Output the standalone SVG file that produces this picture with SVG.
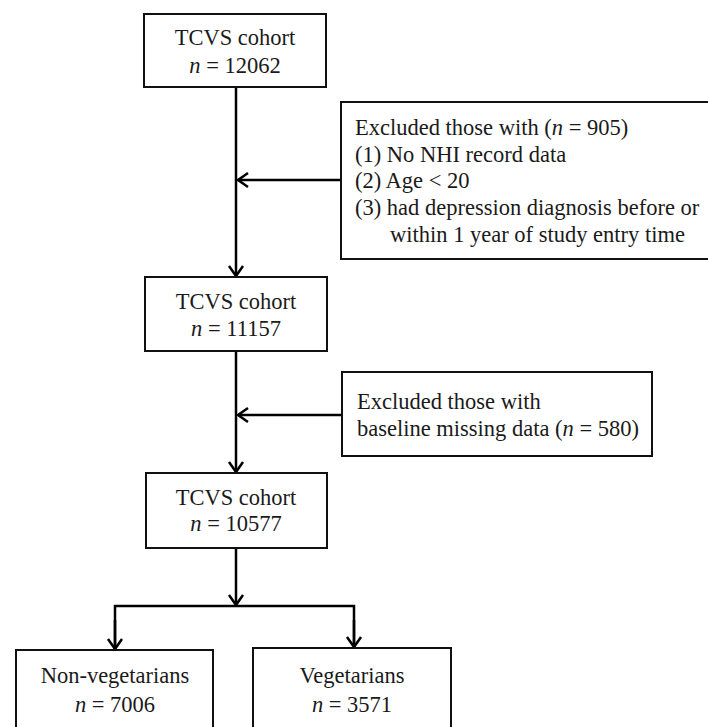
<svg xmlns="http://www.w3.org/2000/svg" width="708" height="727" viewBox="0 0 708 727">
<style>
  .box { fill: #fff; stroke: #111; stroke-width: 2; }
  .t { font-family: "Liberation Serif", "Times New Roman", serif; font-size: 22.5px; fill: #1a1a1a; }
  .c { text-anchor: middle; }
  .i { font-style: italic; }
  .ln { fill: none; stroke: #000; stroke-width: 2.5; }
</style>
<defs>
  <marker id="arr" markerUnits="userSpaceOnUse" markerWidth="20" markerHeight="20" viewBox="-12 -10 14 20" refX="0" refY="0" orient="auto">
    <path d="M-10,-7 L0,0 L-10,7" fill="none" stroke="#000" stroke-width="2.5"/>
  </marker>
</defs>
<rect width="708" height="727" fill="#fff"/>
<g id="connectors">
  <line class="ln" x1="236" y1="87" x2="236" y2="276" marker-end="url(#arr)"/>
  <line class="ln" x1="341" y1="180" x2="238" y2="180" marker-end="url(#arr)"/>
  <line class="ln" x1="236" y1="351" x2="236" y2="472" marker-end="url(#arr)"/>
  <line class="ln" x1="342" y1="415" x2="238" y2="415" marker-end="url(#arr)"/>
  <line class="ln" x1="236" y1="548" x2="236" y2="605" marker-end="url(#arr)"/>
  <polyline class="ln" points="115,648 115,606 354,606 354,646"/>
  <line class="ln" x1="115" y1="620" x2="115" y2="649" marker-end="url(#arr)"/>
  <line class="ln" x1="354" y1="620" x2="354" y2="647" marker-end="url(#arr)"/>
</g>
<g id="n1">
  <rect class="box" x="144" y="14" width="182" height="73"/>
  <text class="t c" x="235" y="45">TCVS cohort</text>
  <text class="t c" x="235" y="73"><tspan class="i">n</tspan> = 12062</text>
</g>
<g id="ex1">
  <rect class="box" x="341" y="102" width="372" height="157"/>
  <text class="t" x="355" y="135">Excluded those with (<tspan class="i">n</tspan> = 905)</text>
  <text class="t" x="355" y="162">(1) No NHI record data</text>
  <text class="t" x="355" y="188">(2) Age &lt; 20</text>
  <text class="t" x="355" y="215">(3) had depression diagnosis before or</text>
  <text class="t" x="390" y="242">within 1 year of study entry time</text>
</g>
<g id="n2">
  <rect class="box" x="145" y="277" width="182" height="74"/>
  <text class="t c" x="236" y="309">TCVS cohort</text>
  <text class="t c" x="236" y="336"><tspan class="i">n</tspan> = 11157</text>
</g>
<g id="ex2">
  <rect class="box" x="342" y="372" width="310" height="84"/>
  <text class="t" x="357" y="409">Excluded those with</text>
  <text class="t" x="357" y="436">baseline missing data (<tspan class="i">n</tspan> = 580)</text>
</g>
<g id="n3">
  <rect class="box" x="146" y="473" width="181" height="75"/>
  <text class="t c" x="236" y="505">TCVS cohort</text>
  <text class="t c" x="236" y="531"><tspan class="i">n</tspan> = 10577</text>
</g>
<g id="nonveg">
  <rect class="box" x="16" y="650" width="197" height="90"/>
  <text class="t c" x="115" y="683">Non-vegetarians</text>
  <text class="t c" x="115" y="712"><tspan class="i">n</tspan> = 7006</text>
</g>
<g id="veg">
  <rect class="box" x="253" y="648" width="198" height="92"/>
  <text class="t c" x="352" y="683">Vegetarians</text>
  <text class="t c" x="352" y="712"><tspan class="i">n</tspan> = 3571</text>
</g>
</svg>
